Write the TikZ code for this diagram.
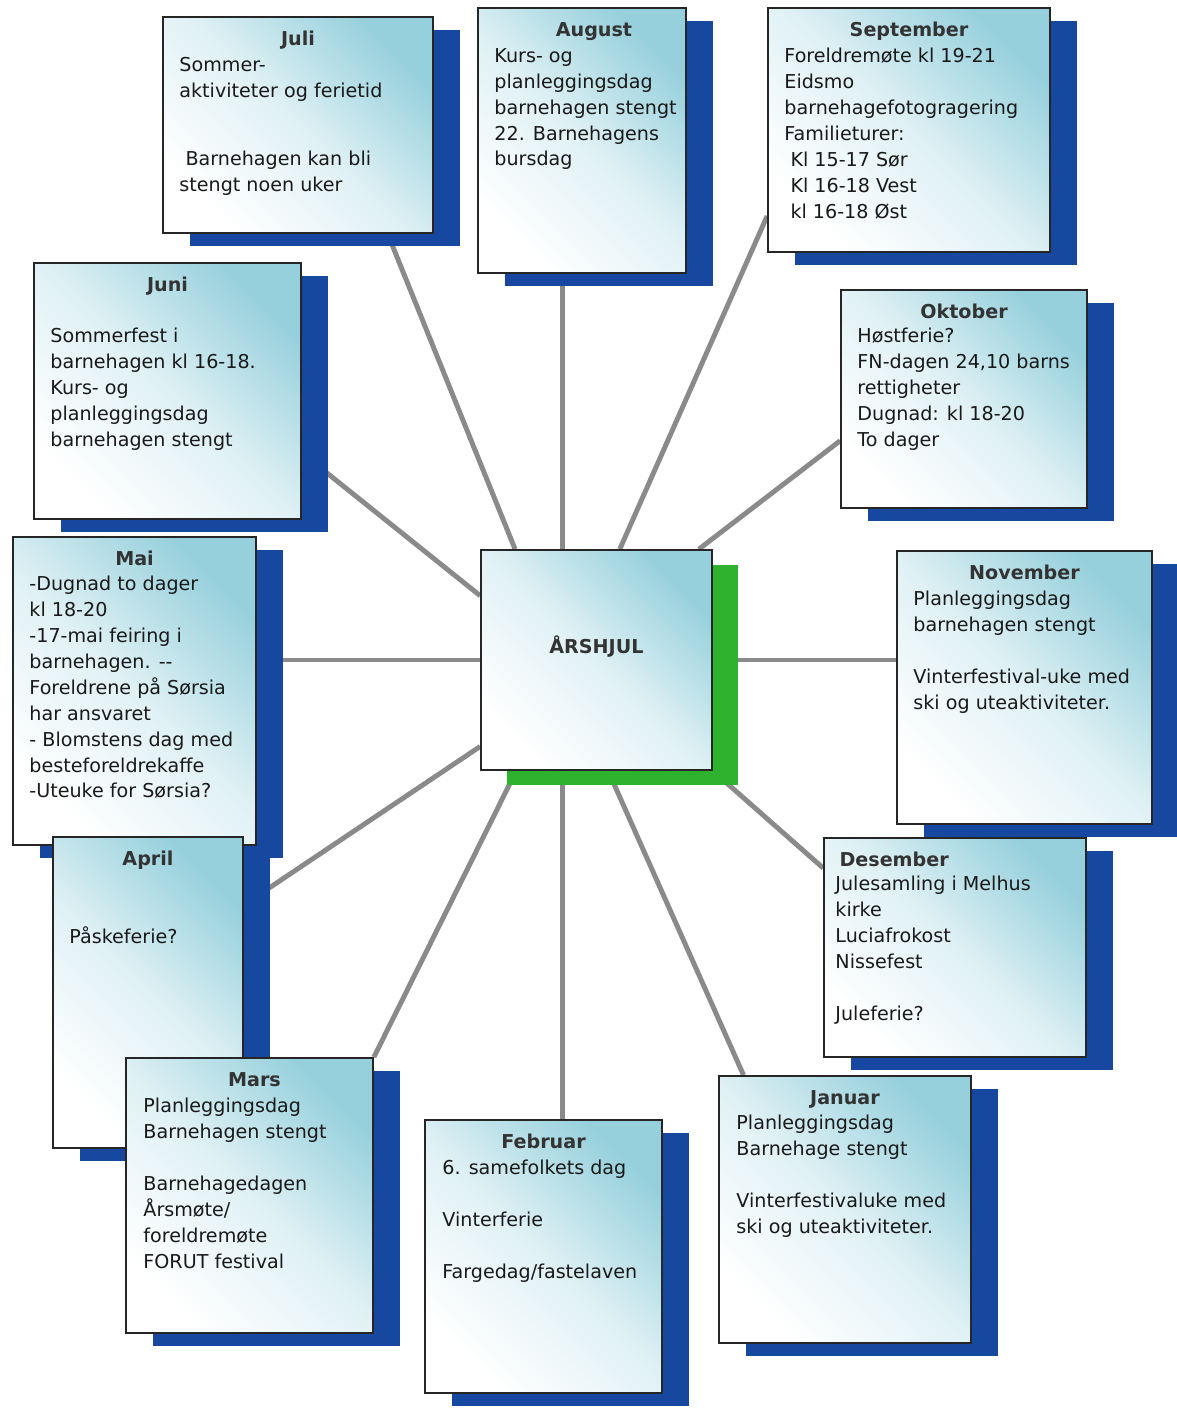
\documentclass[tikz,border=0pt]{standalone}
\usepackage{fontspec}
\setmainfont{DejaVu Sans}
\usepackage{tikz}
\usetikzlibrary{calc}
\usetikzlibrary{fit}
\usetikzlibrary{shadows}
\usetikzlibrary{backgrounds}
\definecolor{box-cyan}{RGB}{150,208,220}
\definecolor{shadow-blue}{RGB}{22,72,160}
\definecolor{shadow-green}{RGB}{46,178,46}
\definecolor{spoke-gray}{RGB}{138,138,138}

\begin{document}
\begin{tikzpicture}
  [
    x = 0.025cm, y = -0.025cm,
    plate/.style = {draw=black!85, line width=1.2pt, inner sep=0pt,
                    top color=box-cyan, bottom color=white,
                    middle color=box-cyan!30!white, shading angle=-45},
    month/.style = {plate, general shadow={fill=shadow-blue, shadow xshift=0.675cm, shadow yshift=-0.33cm}},
    hubbox/.style = {plate, general shadow={fill=shadow-green, shadow xshift=0.65cm, shadow yshift=-0.375cm}},
    monthtitle/.style = {font=\fontsize{13.6}{18.4}\selectfont\bfseries, text=black!80, inner sep=0pt, anchor=base},
    monthtext/.style = {font=\fontsize{13.6}{18.4}\selectfont, text=black!90, align=left, inner sep=0pt, anchor=north west},
    spoke/.style = {draw=spoke-gray, line width=3.5pt}
  ]
\useasboundingbox (0,0) rectangle (1176,1412);

% ---------------------------------------------------
% Top row
\node[month, fit={(163,17) (433,233)}] (juli) {};
\node[monthtitle] (juli-title) at ($ (juli.north) + (0,29) $) {Juli};
\node[monthtext] (juli-text) at ($ (juli.north west) + (17,41) $)
     {Sommer-\\aktiviteter og ferietid\\[29.8pt]\ Barnehagen kan bli\\stengt noen uker};

\node[month, fit={(478,8) (686,273)}] (august) {};
\node[monthtitle] (august-title) at ($ (august.north) + (12,29) $) {August};
\node[monthtext] (august-text) at ($ (august.north west) + (17,41) $)
     {Kurs- og\\planleggingsdag\\barnehagen stengt\\22. Barnehagens\\bursdag};

\node[month, fit={(768,8) (1050,252)}] (september) {};
\node[monthtitle] (september-title) at ($ (september.north) + (0,29) $) {September};
\node[monthtext] (september-text) at ($ (september.north west) + (17,41) $)
     {Foreldremøte kl 19-21\\Eidsmo\\barnehagefotogragering\\Familieturer:\\\ Kl 15-17 Sør\\\ Kl 16-18 Vest\\\ kl 16-18 Øst};

% Left column
\node[month, fit={(34,263) (301,519)}] (juni) {};
\node[monthtitle] (juni-title) at ($ (juni.north) + (0,29) $) {Juni};
\node[monthtext] (juni-text) at ($ (juni.north west) + (17,66) $)
     {Sommerfest i\\barnehagen kl 16-18.\\Kurs- og\\planleggingsdag\\barnehagen stengt};

\node[month, fit={(13,537) (256,845)}] (mai) {};
\node[monthtitle] (mai-title) at ($ (mai.north) + (0,29) $) {Mai};
\node[monthtext] (mai-text) at ($ (mai.north west) + (17,40) $)
     {-Dugnad to dager\\kl 18-20\\-17-mai feiring i\\barnehagen. -{}-\\Foreldrene på Sørsia\\har ansvaret\\- Blomstens dag med\\besteforeldrekaffe\\-Uteuke for Sørsia?};

\node[month, fit={(53,837) (243,1148)}] (april) {};
\node[monthtitle] (april-title) at ($ (april.north) + (0,29) $) {April};
\node[monthtext] (april-text) at ($ (april.north west) + (17,90) $) {Påskeferie?};

% Right column
\node[month, fit={(841,290) (1087,508)}] (oktober) {};
\node[monthtitle] (oktober-title) at ($ (oktober.north) + (0,29) $) {Oktober};
\node[monthtext] (oktober-text) at ($ (oktober.north west) + (17,39) $)
     {Høstferie?\\FN-dagen 24,10 barns\\rettigheter\\Dugnad: kl 18-20\\To dager};

\node[month, fit={(897,551) (1152,824)}] (november) {};
\node[monthtitle] (november-title) at ($ (november.north) + (0,29) $) {November};
\node[monthtext] (november-text) at ($ (november.north west) + (17,41) $)
     {Planleggingsdag\\barnehagen stengt\\[18.4pt]Vinterfestival-uke med\\ski og uteaktiviteter.};

\node[month, fit={(824,838) (1086,1057)}] (desember) {};
\node[monthtitle] (desember-title) at ($ (desember.north west) + (71,29) $) {Desember};
\node[monthtext] (desember-text) at ($ (desember.north west) + (12,39) $)
     {Julesamling i Melhus\\kirke\\Luciafrokost\\Nissefest\\[18.4pt]Juleferie?};

% Bottom row
\node[month, fit={(126,1058) (373,1333)}] (mars) {};
\node[monthtitle] (mars-title) at ($ (mars.north) + (5,29) $) {Mars};
\node[monthtext] (mars-text) at ($ (mars.north west) + (18,41) $)
     {Planleggingsdag\\Barnehagen stengt\\[18.4pt]Barnehagedagen\\Årsmøte/\\foreldremøte\\FORUT festival};

\node[month, fit={(425,1120) (662,1393)}] (februar) {};
\node[monthtitle] (februar-title) at ($ (februar.north) + (0,29) $) {Februar};
\node[monthtext] (februar-text) at ($ (februar.north west) + (18,41) $)
     {6. samefolkets dag\\[18.4pt]Vinterferie\\[18.4pt]Fargedag/fastelaven};

\node[month, fit={(719,1076) (971,1343)}] (januar) {};
\node[monthtitle] (januar-title) at ($ (januar.north) + (0,29) $) {Januar};
\node[monthtext] (januar-text) at ($ (januar.north west) + (18,40) $)
     {Planleggingsdag\\Barnehage stengt\\[18.4pt]Vinterfestivaluke med\\ski og uteaktiviteter.};

% ---------------------------------------------------
% Hub
\node[hubbox, fit={(481,550) (712,770)}] (hub) {};
\node[monthtitle] (hub-title) at ($ (hub.center) + (0,-7) $) {ÅRSHJUL};

% Spokes
\coordinate (aug-foot) at ($ (hub.north west)!0.355!(hub.north east) $);
\coordinate (feb-foot) at ($ (hub.south west)!0.355!(hub.south east) $);
\begin{scope}[on background layer]
\draw[spoke] ($ (juli.south west)!0.83!(juli.south east) $)
          -- ($ (hub.north west)!0.15!(hub.north east) $);
\draw[spoke] (aug-foot) -- (aug-foot |- august.south);
\draw[spoke] ($ (september.north west)!0.85!(september.south west) $)
          -- ($ (hub.north west)!0.6!(hub.north east) $);
\draw[spoke] ($ (oktober.north west)!0.69!(oktober.south west) $)
          -- ($ (hub.north west)!0.94!(hub.north east) $);
\draw[spoke] ($ (juni.north east)!0.74!(juni.south east) $)
          -- ($ (hub.north west)!0.21!(hub.south west) $);
\draw[spoke] (hub.west) -- (hub.west -| mai.east);
\draw[spoke] (hub.east) -- (hub.east -| november.west);
\draw[spoke] ($ (april.north east)!0.22!(april.south east) $)
          -- ($ (hub.north west)!0.89!(hub.south west) $);
\draw[spoke] (hub.south east)
          -- ($ (desember.north west)!0.14!(desember.south west) $);
\draw[spoke] ($ (hub.south west)!0.55!(hub.south east) $)
          -- ($ (januar.north west)!0.1!(januar.north east) $);
\draw[spoke] (feb-foot) -- (feb-foot |- februar.north);
\draw[spoke] ($ (hub.south west)!0.155!(hub.south east) $) -- (mars.north east);
\end{scope}
% ---------------------------------------------------
\end{tikzpicture}
\end{document}
